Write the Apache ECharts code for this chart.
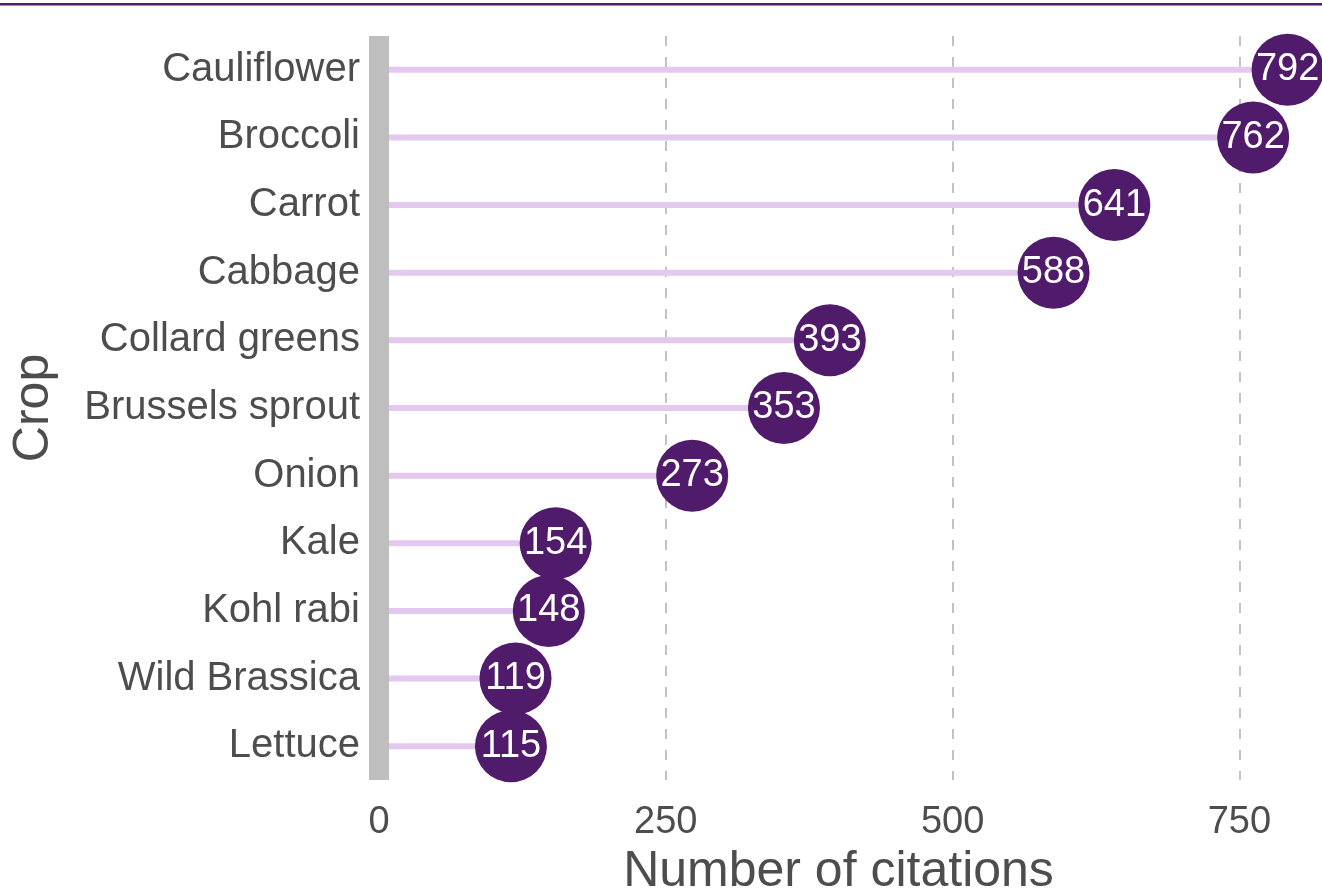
<!DOCTYPE html>
<html>
<head>
<meta charset="utf-8">
<script src="https://cdn.jsdelivr.net/npm/echarts@6/dist/echarts.min.js"></script>
<style>html,body{margin:0;padding:0;background:#fff}#c{width:1322px;height:891px}</style>
</head>
<body>
<div id="c"></div>
<script>
const crops = ["Cauliflower","Broccoli","Carrot","Cabbage","Collard greens","Brussels sprout","Onion","Kale","Kohl rabi","Wild Brassica","Lettuce"];
const citations = [792,762,641,588,393,353,273,154,148,119,115];
const xTicks = [0,250,500,750];

const chart = echarts.init(document.getElementById('c'));
const font = 'Liberation Sans, Arial, sans-serif';
const grid = '#c2c2c2';
chart.setOption({
  animation: false,
  backgroundColor: '#ffffff',
  graphic: [{type:'rect', left:0, top:3, shape:{width:1322,height:2.5}, style:{fill:'#4b1f6e'}}],
  grid: {left: 379, right: 0, top: 36, bottom: 111, outerBoundsMode: 'none', containLabel: false},
  xAxis: {
    type: 'value', min: 0, max: 822, interval: 250,
    axisLine: {show:false}, axisTick: {show:false},
    splitLine: {show:true, lineStyle:{type:[10,11], color:[grid, grid, grid, grid, 'rgba(0,0,0,0)'], width:2}},
    axisLabel: {fontSize:38, color:'#4d4d4d', fontFamily:font, margin:24, showMaxLabel:false,
      formatter: v => xTicks.includes(v) ? String(v) : ''},
    name: 'Number of citations', nameLocation:'middle', nameGap: 60,
    nameTextStyle: {fontSize:50, color:'#4d4d4d', fontFamily:font, padding:[0,24,0,0]}
  },
  yAxis: {
    type: 'category', data: crops, inverse: true, z: 5,
    axisLine: {show:true, lineStyle:{color:'#bebebe', width:20, cap:'butt'}},
    axisTick: {show:false},
    splitLine: {show:false},
    axisLabel: {fontSize:40, color:'#4d4d4d', fontFamily:font, margin:19, padding:[4,0,0,0]},
    name: 'Crop', nameLocation:'middle', nameGap: 320, nameRotate: 90,
    nameTextStyle: {fontSize:50, color:'#4d4d4d', fontFamily:font}
  },
  series: [
    {type:'bar', data: citations, barWidth: 6, itemStyle:{color:'#e3c8f0'}, z:2, silent:true},
    {type:'scatter', data: citations, symbolSize: 72, itemStyle:{color:'#511b6b', opacity:1}, z:3,
      label:{show:true, position:'inside', color:'#ffffff', fontSize:38, fontFamily:font,
        formatter: p => String(p.value)}}
  ]
});
</script>
</body>
</html>
